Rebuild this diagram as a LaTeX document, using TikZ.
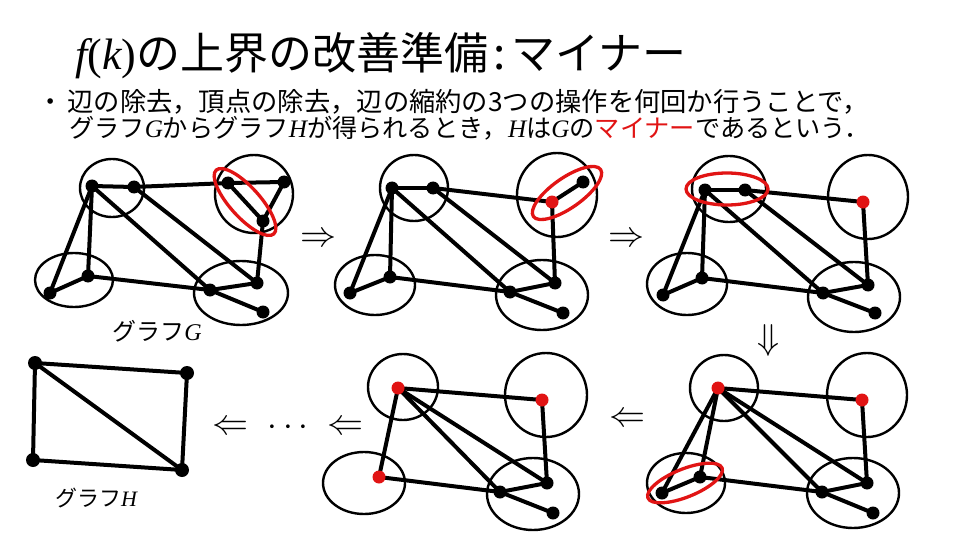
\documentclass[tikz,border=0pt]{standalone}
\usepackage{fontspec}
\usepackage{graphicx}
\newfontfamily\jp{Noto Sans CJK JP}
\newfontfamily\tms{Liberation Serif}
\usetikzlibrary{backgrounds}
\definecolor{myred}{RGB}{225,20,20}
\tikzset{
  vtx/.style={circle,fill=black,inner sep=0pt,minimum size=13pt},
  rvtx/.style={circle,fill=myred,inner sep=0pt,minimum size=13pt},
  edge/.style={line width=4pt},
  grp/.style={line width=2.4pt},
  hl/.style={draw=myred,line width=3.3pt},
  arr/.style={inner sep=0pt},
  txt/.style={anchor=base west, inner sep=0pt},
}
\begin{document}
\begin{tikzpicture}[x=1pt,y=-1pt]
\useasboundingbox (0,0) rectangle (960,540);
% ---- texts
\node[txt] (title) at (75,70) {\fontsize{44}{44}\selectfont{\tms\itshape f}{\tms(}{\tms\itshape k}{\tms)}\jp の上界の改善準備\hspace{0.12em}:\hspace{0.12em}マイナー};
\node[txt] (l1) at (37,112) {\jp\fontsize{26.3}{26.3}\selectfont ・\hspace{4pt}辺の除去，頂点の除去，辺の縮約の3つの操作を何回か行うことで，};
\node[txt] (l2) at (69,138) {\jp\fontsize{25.2}{25.2}\selectfont グラフ{\tms\itshape G}からグラフ{\tms\itshape H}が得られるとき，{\tms\itshape H}は{\tms\itshape G}の{\color{myred}マイナー}であるという．};
\node[anchor=base, inner sep=0pt] (labG) at (157,340) {\jp\fontsize{24}{24}\selectfont グラフ{\tms\itshape G}};
\node[anchor=base, inner sep=0pt] (labH) at (96,506) {\jp\fontsize{22}{22}\selectfont グラフ{\tms\itshape H}};
% ---- transition arrows
\node[arr] (ar1) at (318,240) {\scalebox{3.6}{$\Rightarrow$}};
\node[arr] (ar2) at (626,240) {\scalebox{3.6}{$\Rightarrow$}};
\node[arr] (ar3) at (768,340) {\scalebox{3.6}{$\Downarrow$}};
\node[arr] (ar4) at (627,420) {\scalebox{3.6}{$\Leftarrow$}};
\node[arr] (ar5) at (345,428) {\scalebox{3.6}{$\Leftarrow$}};
\node[arr] (dots) at (288,428) {\scalebox{3.5}{$\cdots$}};
\node[arr] (ar6) at (230,428) {\scalebox{3.6}{$\Leftarrow$}};

% ---- Graph 1
\node[vtx] (g1a1) at (92,186) {};
\node[vtx] (g1a2) at (134,187) {};
\node[vtx] (g1b1) at (228,183) {};
\node[vtx] (g1b2) at (284,182) {};
\node[vtx] (g1b3) at (263,221) {};
\node[vtx] (g1c1) at (88,276) {};
\node[vtx] (g1c2) at (50,293) {};
\node[vtx] (g1d1) at (210,290) {};
\node[vtx] (g1d2) at (257,283) {};
\node[vtx] (g1d3) at (263,312) {};
% ---- Graph 2
\node[vtx] (g2a1) at (392,188) {};
\node[vtx] (g2a2) at (433,188) {};
\node[rvtx] (g2b) at (552,202) {};
\node[vtx] (g2b2) at (583,182) {};
\node[vtx] (g2c1) at (390,277) {};
\node[vtx] (g2c2) at (350,293) {};
\node[vtx] (g2d1) at (510,292) {};
\node[vtx] (g2d2) at (555,283) {};
\node[vtx] (g2d3) at (563,313) {};
% ---- Graph 3
\node[vtx] (g3a1) at (705,190) {};
\node[vtx] (g3a2) at (745,190) {};
\node[rvtx] (g3b) at (863,202) {};
\node[vtx] (g3c1) at (702,278) {};
\node[vtx] (g3c2) at (663,295) {};
\node[vtx] (g3d1) at (823,293) {};
\node[vtx] (g3d2) at (868,285) {};
\node[vtx] (g3d3) at (875,313) {};
% ---- Graph 4
\node[rvtx] (g4a) at (718,388) {};
\node[rvtx] (g4b) at (862,400) {};
\node[vtx] (g4c1) at (700,477) {};
\node[vtx] (g4c2) at (662,493) {};
\node[vtx] (g4d1) at (822,492) {};
\node[vtx] (g4d2) at (867,483) {};
\node[vtx] (g4d3) at (873,513) {};
% ---- Graph 5
\node[rvtx] (g5a) at (398,388) {};
\node[rvtx] (g5b) at (542,400) {};
\node[rvtx] (g5c) at (379,477) {};
\node[vtx] (g5d1) at (500,492) {};
\node[vtx] (g5d2) at (547,483) {};
\node[vtx] (g5d3) at (553,513) {};
% ---- Graph H
\node[vtx, minimum size=14pt] (h1) at (35,363) {};
\node[vtx, minimum size=14pt] (h2) at (187,373) {};
\node[vtx, minimum size=14pt] (h3) at (33,460) {};
\node[vtx, minimum size=14pt] (h4) at (182,470) {};

\begin{pgfonlayer}{background}
% groups
\draw[grp] (112,188) ellipse [x radius=32pt, y radius=29pt];
\draw[grp] (254,194) ellipse [x radius=39pt, y radius=39pt];
\draw[grp] (74,280) ellipse [x radius=39pt, y radius=27pt];
\draw[grp] (241,293) ellipse [x radius=47pt, y radius=32pt];

\draw[grp] (414,188) ellipse [x radius=34pt, y radius=33pt];
\draw[grp] (557,195) ellipse [x radius=40pt, y radius=42pt];
\draw[grp] (375,285) ellipse [x radius=40pt, y radius=30pt];
\draw[grp] (542,295) ellipse [x radius=46pt, y radius=35pt];

\draw[grp] (729,189) ellipse [x radius=37pt, y radius=33pt];
\draw[grp] (868,197) ellipse [x radius=40pt, y radius=42pt];
\draw[grp] (687,284) ellipse [x radius=40pt, y radius=31pt];
\draw[grp] (854,297) ellipse [x radius=46pt, y radius=35pt];

\draw[grp] (724,388) ellipse [x radius=34pt, y radius=33pt];
\draw[grp] (867,395) ellipse [x radius=40pt, y radius=42pt];
\draw[grp] (686,483) ellipse [x radius=39pt, y radius=30pt];
\draw[grp] (853,493) ellipse [x radius=46pt, y radius=35pt];

\draw[grp] (403,387) ellipse [x radius=35pt, y radius=33pt];
\draw[grp] (546,395) ellipse [x radius=41pt, y radius=42pt];
\draw[grp] (364,483) ellipse [x radius=41pt, y radius=31pt];
\draw[grp] (533,494) ellipse [x radius=46pt, y radius=36pt];
% edges
\foreach \u/\v in {a1/a2,a2/b1,b1/b2,b2/b3,b1/b3,b3/d2,a1/c1,a1/c2,c1/c2,c1/d1,a1/d1,a2/d2,d1/d2,d1/d3}
  \draw[edge] (g1\u.center) -- (g1\v.center);
\foreach \u/\v in {a1/a2,a2/b,b/b2,b/d2,a1/c1,a1/c2,c1/c2,c1/d1,a1/d1,a2/d2,d1/d2,d1/d3}
  \draw[edge] (g2\u.center) -- (g2\v.center);
\foreach \u/\v in {a1/a2,a2/b,b/d2,a1/c1,a1/c2,c1/c2,c1/d1,a1/d1,a2/d2,d1/d2,d1/d3}
  \draw[edge] (g3\u.center) -- (g3\v.center);
\foreach \u/\v in {a/b,b/d2,a/c1,a/c2,c1/c2,c1/d1,a/d1,a/d2,d1/d2,d1/d3}
  \draw[edge] (g4\u.center) -- (g4\v.center);
\foreach \u/\v in {a/b,b/d2,a/c,c/d1,a/d1,a/d2,d1/d2,d1/d3}
  \draw[edge] (g5\u.center) -- (g5\v.center);
\foreach \u/\v in {h1/h2,h1/h3,h1/h4,h2/h4,h3/h4}
  \draw[edge] (\u.center) -- (\v.center);
\end{pgfonlayer}

% red highlight ellipses
\draw[hl] (245,202) ellipse [x radius=43pt, y radius=15pt, rotate=-48];
\draw[hl] (567,193) ellipse [x radius=41pt, y radius=15pt, rotate=35];
\draw[hl] (727,189) ellipse [x radius=41pt, y radius=16pt];
\draw[hl] (685,483) ellipse [x radius=40pt, y radius=14pt, rotate=22];
\end{tikzpicture}
\end{document}
